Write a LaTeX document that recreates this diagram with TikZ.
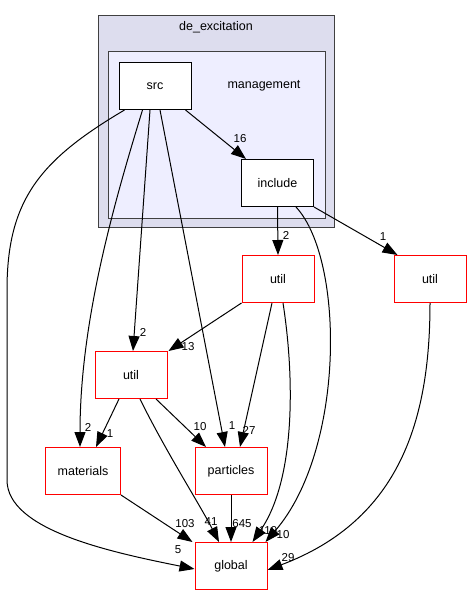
\documentclass[tikz,border=0pt]{standalone}
\usepackage{fontspec}
\setmainfont{Liberation Sans}
\usetikzlibrary{arrows.meta}
\definecolor{outerfill}{HTML}{DDDDEE}
\definecolor{innerfill}{HTML}{EEEEFF}
\definecolor{clusterline}{HTML}{404040}
\begin{document}
\begin{tikzpicture}[x=1pt,y=-1pt,
  dirbox/.style={draw=black,fill=white,line width=1pt,minimum width=72pt,minimum height=47pt,inner sep=0pt,font=\fontsize{12.5}{14}\selectfont},
  redbox/.style={dirbox,draw=red},
  dep/.style={line width=1pt,-{Triangle[length=15pt,width=11pt]}},
  lbl/.style={font=\fontsize{11.5}{13}\selectfont,inner sep=0pt}]
\useasboundingbox (0,0) rectangle (472,596);
% clusters
\draw[fill=outerfill,draw=clusterline,line width=1pt] (98,16) rectangle (334,227);
\node[font=\fontsize{12.5}{14}\selectfont] (lblde) at (216,27) {de\_excitation};
\draw[fill=innerfill,draw=clusterline,line width=1pt] (108,52) rectangle (325,218);
\node[font=\fontsize{12.5}{14}\selectfont] (lblmg) at (264,86) {management};
% nodes
\node[dirbox] (src) at (155,86) {src};
\node[dirbox] (include) at (277.5,183) {include};
\node[redbox] (utilA) at (278,279) {util};
\node[redbox] (utilR) at (430,279) {util};
\node[redbox] (utilM) at (131,375) {util};
\node[redbox,minimum width=75pt] (materials) at (83,471) {materials};
\node[redbox] (particles) at (231,471) {particles};
\node[redbox] (global) at (231,566) {global};
% edges
\draw[dep] ([xshift=-6pt]src.south east) -- ([xshift=5pt]include.north west);
\draw[dep] ([xshift=6pt]src.south west) .. controls (40,160) and (7,200) .. (7,290) -- (7,480) .. controls (7,530) and (110,552) .. ([yshift=-3pt]global.west);
\draw[dep] ([xshift=24pt]src.south west) .. controls (115,200) and (80,320) .. ([xshift=-3pt]materials.north);
\draw[dep] ([xshift=-5pt]src.south) -- ([xshift=2pt]utilM.north);
\draw[dep] ([xshift=5pt]src.south) -- ([xshift=-6pt]particles.north);
\draw[dep] (include.south) -- (utilA.north);
\draw[dep] ([xshift=-18pt]include.south east) .. controls (345,260) and (345,450) .. ([xshift=-2pt]global.north east);
\draw[dep] (include.south east) -- ([xshift=4pt]utilR.north west);
\draw[dep] (utilA.south west) -- ([xshift=1pt]utilM.north east);
\draw[dep] ([xshift=-6pt]utilA.south) -- ([xshift=9pt]particles.north);
\draw[dep] ([xshift=5pt]utilA.south) .. controls (295,380) and (295,480) .. ([xshift=-15pt]global.north east);
\draw[dep] (utilR.south) .. controls (430,420) and (400,520) .. ([yshift=-4pt]global.east);
\draw[dep] ([xshift=-12pt]utilM.south) -- ([xshift=13pt]materials.north);
\draw[dep] ([xshift=25pt]utilM.south) -- ([xshift=-25pt]particles.north);
\draw[dep] ([xshift=9pt]utilM.south) .. controls (165,450) and (200,505) .. ([xshift=-12pt]global.north);
\draw[dep] (materials.south east) -- ([xshift=-2pt]global.north west);
\draw[dep] (particles.south) -- (global.north);
% labels
\node[lbl] (l16) at (240,139) {16};
\node[lbl] (l5) at (178,550) {5};
\node[lbl] (l2a) at (88,427) {2};
\node[lbl] (l2b) at (143,332) {2};
\node[lbl] (l1a) at (232,426) {1};
\node[lbl] (l2c) at (286,235) {2};
\node[lbl] (l1b) at (383,237) {1};
\node[lbl] (l13) at (188,347) {13};
\node[lbl] (l27) at (249,430) {27};
\node[lbl] (l1c) at (110,434) {1};
\node[lbl] (l10a) at (200,427) {10};
\node[lbl] (l103) at (185,524) {103};
\node[lbl] (l41) at (211,522) {41};
\node[lbl] (l645) at (242,524) {645};
\node[lbl] (l119) at (268,531) {119};
\node[lbl] (l10b) at (283,535) {10};
\node[lbl] (l29) at (288,558) {29};
\end{tikzpicture}
\end{document}
